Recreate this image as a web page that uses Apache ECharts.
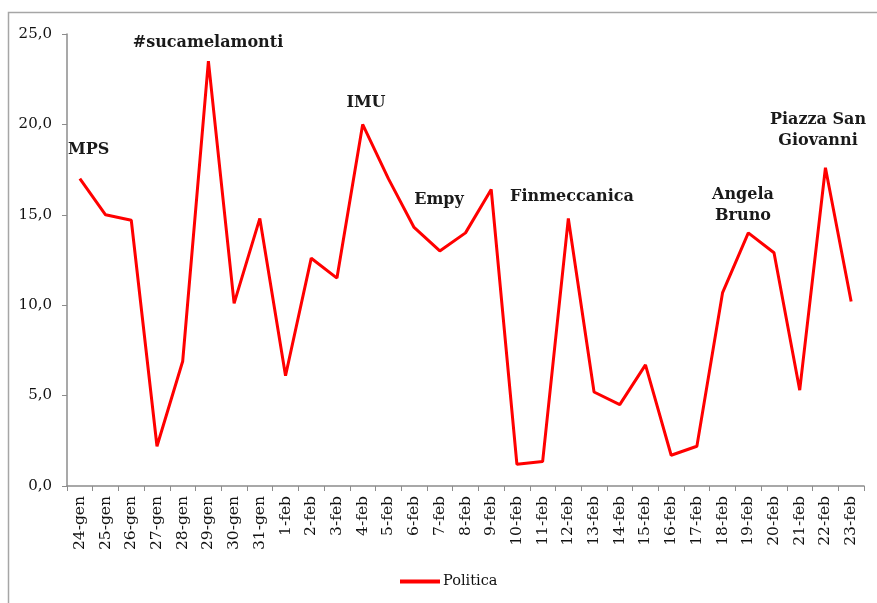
<!DOCTYPE html>
<html>
<head>
<meta charset="utf-8">
<script src="https://cdn.jsdelivr.net/npm/echarts@6/dist/echarts.min.js"></script>
<style>
  html, body { margin: 0; padding: 0; background: #fff; }
  #chart { width: 877px; height: 603px; }
</style>
</head>
<body>
<div id="chart"></div>
<script>
const days = ['24-gen', '25-gen', '26-gen', '27-gen', '28-gen', '29-gen', '30-gen', '31-gen',
  '1-feb', '2-feb', '3-feb', '4-feb', '5-feb', '6-feb', '7-feb', '8-feb', '9-feb', '10-feb',
  '11-feb', '12-feb', '13-feb', '14-feb', '15-feb', '16-feb', '17-feb', '18-feb', '19-feb',
  '20-feb', '21-feb', '22-feb', '23-feb']
const politica = [17.0, 15.0, 14.7, 2.2, 6.9, 23.5, 10.1, 14.8, 6.1, 12.6, 11.5, 20.0, 17.0,
  14.3, 13.0, 14.0, 16.4, 1.2, 1.35, 14.8, 5.2, 4.5, 6.7, 1.7, 2.2, 10.7, 14.0, 12.9, 5.3,
  17.6, 10.2]
const yTicks = { min: 0, max: 25, step: 5 }
const notes = [
  { text: 'MPS', x: 68, y: 150, align: 'left' },
  { text: '#sucamelamonti', x: 208, y: 43, align: 'center' },
  { text: 'IMU', x: 366, y: 103, align: 'center' },
  { text: 'Empy', x: 439, y: 200, align: 'center' },
  { text: 'Finmeccanica', x: 572, y: 197, align: 'center' },
  { text: 'Angela\nBruno', x: 743, y: 205, align: 'center' },
  { text: 'Piazza San\nGiovanni', x: 818, y: 130, align: 'center' }
]

const serif = '"DejaVu Serif", "Liberation Serif", serif'
const axisGray = '#8c8c8c'

const chart = echarts.init(document.getElementById('chart'))
chart.setOption({
  animation: false,
  grid: { left: 67, right: 13, top: 34, bottom: 117 },
  xAxis: {
    type: 'category',
    data: days,
    boundaryGap: true,
    axisLine: { lineStyle: { color: axisGray, width: 1.5 } },
    axisTick: { show: true, length: 5, lineStyle: { color: axisGray } },
    axisLabel: {
      rotate: 90,
      interval: 0,
      margin: 10,
      color: '#111',
      fontFamily: serif,
      fontSize: 15.5
    }
  },
  yAxis: {
    type: 'value',
    min: yTicks.min,
    max: yTicks.max,
    interval: yTicks.step,
    splitLine: { show: false },
    axisLine: { show: true, lineStyle: { color: axisGray, width: 1.5 } },
    axisTick: { show: true, length: 5, lineStyle: { color: axisGray } },
    axisLabel: {
      margin: 15,
      color: '#111',
      fontFamily: serif,
      fontSize: 15,
      formatter: v => v.toFixed(1).replace('.', ',')
    }
  },
  legend: {
    top: 569,
    left: 395,
    itemWidth: 40,
    itemHeight: 4,
    itemGap: 4,
    icon: 'rect',
    textStyle: { fontFamily: serif, fontSize: 14.5, color: '#111', padding: [0, 0, 0, -2] },
    data: ['Politica']
  },
  series: [{
    name: 'Politica',
    type: 'line',
    data: politica,
    symbol: 'none',
    lineStyle: { color: '#ff0000', width: 3 },
    itemStyle: { color: '#ff0000' }
  }],
  graphic: [
    {
      type: 'rect',
      shape: { x: 8.5, y: 12.5, width: 900, height: 700 },
      style: { fill: null, stroke: '#a6a6a6', lineWidth: 1.5 },
      silent: true
    }
  ].concat(notes.map(n => ({
    type: 'text',
    x: n.x,
    y: n.y,
    style: {
      text: n.text,
      fontFamily: serif,
      fontWeight: 'bold',
      fontSize: 16,
      lineHeight: 21,
      fill: '#1a1a1a',
      align: n.align,
      verticalAlign: 'middle'
    }
  })))
})
</script>
</body>
</html>
